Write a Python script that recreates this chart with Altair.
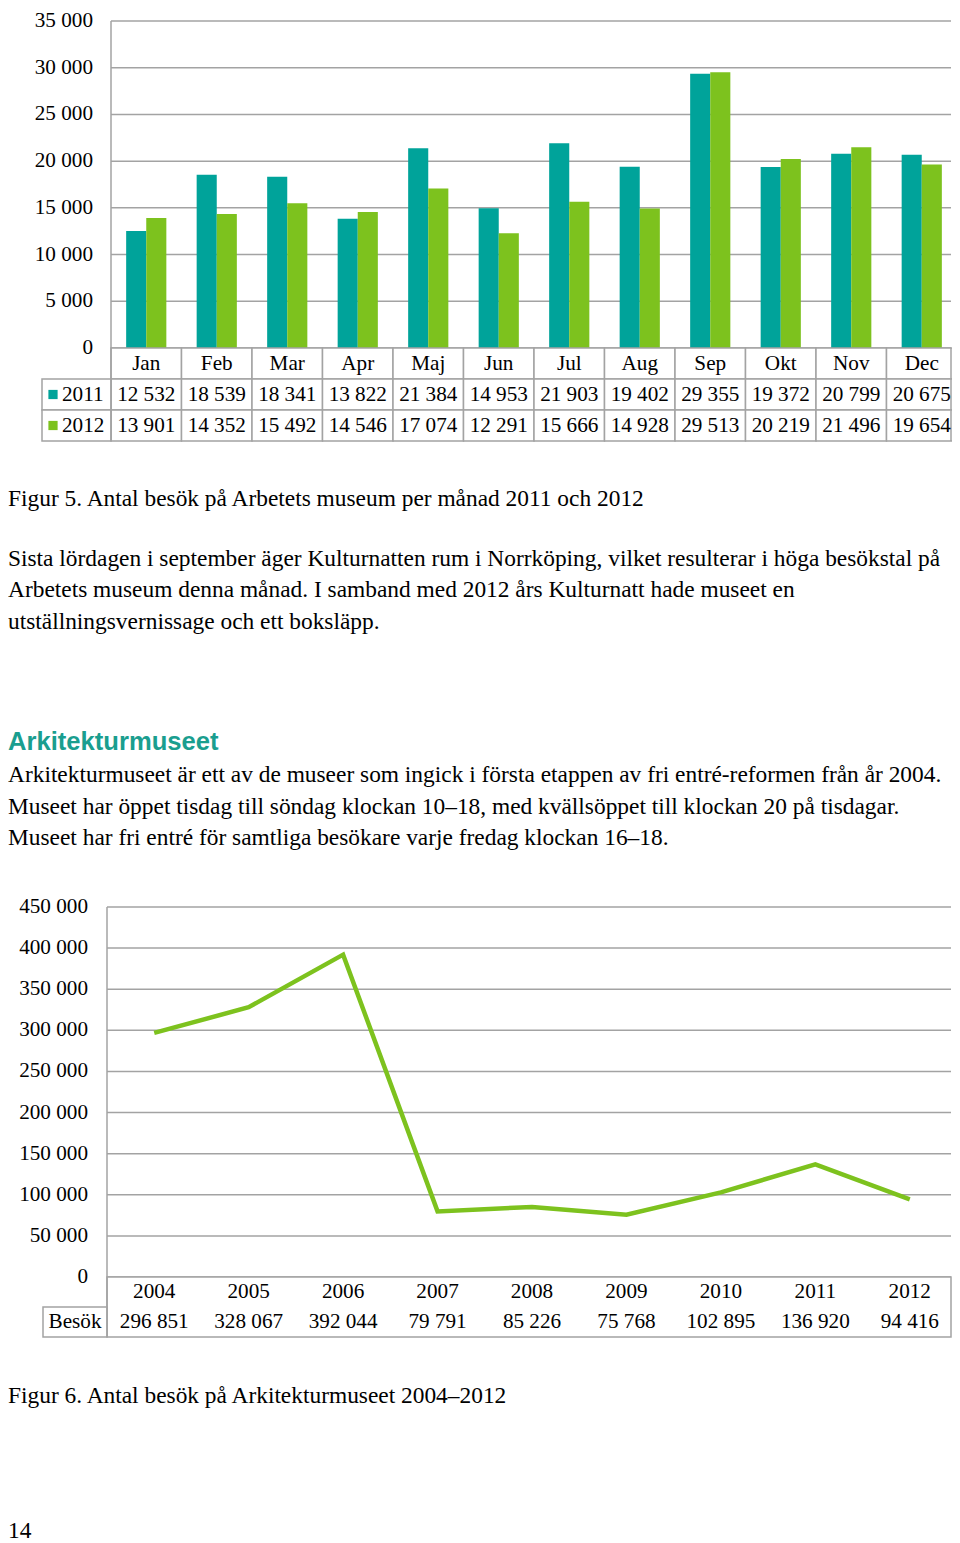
import altair as alt
import pandas as pd

# ---------------- data ----------------
months = ["Jan", "Feb", "Mar", "Apr", "Maj", "Jun", "Jul", "Aug", "Sep", "Okt", "Nov", "Dec"]
visits_2011 = [12532, 18539, 18341, 13822, 21384, 14953, 21903, 19402, 29355, 19372, 20799, 20675]
visits_2012 = [13901, 14352, 15492, 14546, 17074, 12291, 15666, 14928, 29513, 20219, 21496, 19654]
bar_ticks = [0, 5000, 10000, 15000, 20000, 25000, 30000, 35000]

years = ["2004", "2005", "2006", "2007", "2008", "2009", "2010", "2011", "2012"]
arkitektur_visits = [296851, 328067, 392044, 79791, 85226, 75768, 102895, 136920, 94416]
line_ticks = [0, 50000, 100000, 150000, 200000, 250000, 300000, 350000, 400000, 450000]

caption5 = "Figur 5. Antal besök på Arbetets museum per månad 2011 och 2012"
para1 = [
    "Sista lördagen i september äger Kulturnatten rum i Norrköping, vilket resulterar i höga besökstal på",
    "Arbetets museum denna månad. I samband med 2012 års Kulturnatt hade museet en",
    "utställningsvernissage och ett boksläpp.",
]
heading = "Arkitekturmuseet"
para2 = [
    "Arkitekturmuseet är ett av de museer som ingick i första etappen av fri entré-reformen från år 2004.",
    "Museet har öppet tisdag till söndag klockan 10–18, med kvällsöppet till klockan 20 på tisdagar.",
    "Museet har fri entré för samtliga besökare varje fredag klockan 16–18.",
]
caption6 = "Figur 6. Antal besök på Arkitekturmuseet 2004–2012"
page_no = "14"

# ---------------- style ----------------
TEAL = "#00A39A"
GREEN = "#7DC21E"
HEAD = "#1A9E8F"
GRAY = "#A3A3A3"
SERIF = "Liberation Serif"
SANS = "Liberation Sans"
FS_AX = 21.2
FS_BODY = 23.4
RIGHT = 951  # right edge (page px) of charts and tables


def P(v):
    return v - 8  # page px -> chart px (page margin 8)


def fmt(v):
    return f"{v:,}".replace(",", " ")


one = alt.Data(values=[{"k": 1}])

# ---------------- bar chart (Figur 5) ----------------
bar_df = pd.DataFrame(
    {"month": months * 2,
     "year": ["2011"] * 12 + ["2012"] * 12,
     "value": visits_2011 + visits_2012}
)
bar_y = alt.Scale(domain=[0, 35000], range=[P(348), P(21)], nice=False, zero=True)
bar_tick_df = pd.DataFrame({"tick": bar_ticks, "label": [fmt(t) for t in bar_ticks]})

bar_grid = alt.Chart(bar_tick_df).mark_rule(color=GRAY, strokeWidth=1.5).encode(
    y=alt.Y("tick:Q", scale=bar_y, axis=None),
    x=alt.value(P(111)), x2=alt.value(P(RIGHT)),
)
bar_labels = alt.Chart(bar_tick_df).mark_text(
    align="right", baseline="middle", font=SERIF, fontSize=FS_AX, color="black"
).encode(
    y=alt.Y("tick:Q", scale=bar_y, axis=None),
    x=alt.value(P(93)), text="label:N",
)
bars = alt.Chart(bar_df).mark_bar().encode(
    x=alt.X("month:N", sort=months,
            scale=alt.Scale(domain=months, range=[P(111), P(957)], paddingInner=0.43, paddingOuter=0.215),
            axis=None),
    xOffset=alt.XOffset("year:N", scale=alt.Scale(domain=["2011", "2012"], paddingInner=0, paddingOuter=0)),
    y=alt.Y("value:Q", scale=bar_y, axis=None),
    color=alt.Color("year:N", scale=alt.Scale(domain=["2011", "2012"], range=[TEAL, GREEN]), legend=None),
)

rows = ["hdr", "2011", "2012"]
tbl_x = alt.Scale(domain=months, range=[P(111), P(957)], paddingInner=0, paddingOuter=0)
tbl_y = alt.Scale(domain=rows, range=[P(348), P(441)], paddingInner=0, paddingOuter=0)
tbl_df = pd.DataFrame(
    {"month": months * 3,
     "row": ["hdr"] * 12 + ["2011"] * 12 + ["2012"] * 12,
     "label": months + [fmt(v) for v in visits_2011] + [fmt(v) for v in visits_2012]}
)
tbl_cells = alt.Chart(tbl_df).mark_rect(fill="white", stroke=GRAY, strokeWidth=1.5).encode(
    x=alt.X("month:N", scale=tbl_x, axis=None),
    y=alt.Y("row:N", scale=tbl_y, axis=None),
)
tbl_right = alt.Chart(one).mark_rule(color=GRAY, strokeWidth=1.5).encode(
    x=alt.value(P(RIGHT)), y=alt.value(P(348)), y2=alt.value(P(441)),
)
tbl_text = alt.Chart(tbl_df).mark_text(
    baseline="middle", font=SERIF, fontSize=FS_AX, color="black"
).encode(
    x=alt.X("month:N", scale=tbl_x, axis=None),
    y=alt.Y("row:N", scale=tbl_y, axis=None),
    text="label:N",
)
leg_df = pd.DataFrame({"row": ["2011", "2012"]})
leg_cells = alt.Chart(leg_df).mark_rect(fill="white", stroke=GRAY, strokeWidth=1.5).encode(
    x=alt.value(P(42)), x2=alt.value(P(111)),
    y=alt.Y("row:N", scale=tbl_y, axis=None),
)
leg_marks = alt.Chart(leg_df).mark_square(size=85, opacity=1).encode(
    x=alt.value(P(53)),
    y=alt.Y("row:N", scale=tbl_y, axis=None),
    color=alt.Color("row:N", scale=alt.Scale(domain=["2011", "2012"], range=[TEAL, GREEN]), legend=None),
)
leg_text = alt.Chart(leg_df).mark_text(
    align="left", baseline="middle", font=SERIF, fontSize=FS_AX, color="black"
).encode(
    x=alt.value(P(62)),
    y=alt.Y("row:N", scale=tbl_y, axis=None),
    text="row:N",
)
bar_axis = alt.Chart(one).mark_rule(color=GRAY, strokeWidth=1.5).encode(
    x=alt.value(P(111)), y=alt.value(P(21)), y2=alt.value(P(441)),
)

# ---------------- line chart (Figur 6) ----------------
line_df = pd.DataFrame({"year": years, "visits": arkitektur_visits, "label": [fmt(v) for v in arkitektur_visits]})
line_x = alt.Scale(type="point", domain=years, range=[P(107), P(957)], padding=0.5)
line_y = alt.Scale(domain=[0, 450000], range=[P(1277), P(907)], nice=False, zero=True)
line_tick_df = pd.DataFrame({"tick": line_ticks, "label": [fmt(t) for t in line_ticks]})

line_grid = alt.Chart(line_tick_df).mark_rule(color=GRAY, strokeWidth=1.5).encode(
    y=alt.Y("tick:Q", scale=line_y, axis=None),
    x=alt.value(P(107)), x2=alt.value(P(RIGHT)),
)
line_labels = alt.Chart(line_tick_df).mark_text(
    align="right", baseline="middle", font=SERIF, fontSize=FS_AX, color="black"
).encode(
    y=alt.Y("tick:Q", scale=line_y, axis=None),
    x=alt.value(P(88)), text="label:N",
)
line_box = alt.Chart(one).mark_rect(fill="white", stroke=GRAY, strokeWidth=1.5).encode(
    x=alt.value(P(107)), x2=alt.value(P(RIGHT)), y=alt.value(P(1277)), y2=alt.value(P(1337)),
)
besok_box = alt.Chart(one).mark_rect(fill="white", stroke=GRAY, strokeWidth=1.5).encode(
    x=alt.value(P(43)), x2=alt.value(P(107)), y=alt.value(P(1307)), y2=alt.value(P(1337)),
)
besok_text = alt.Chart(one).mark_text(
    align="center", baseline="middle", font=SERIF, fontSize=FS_AX, color="black", text="Besök"
).encode(x=alt.value(P(75)), y=alt.value(P(1322)))
line_axis = alt.Chart(one).mark_rule(color=GRAY, strokeWidth=1.5).encode(
    x=alt.value(P(107)), y=alt.value(P(907)), y2=alt.value(P(1337)),
)
line = alt.Chart(line_df).mark_line(color=GREEN, strokeWidth=4.5, strokeJoin="miter").encode(
    x=alt.X("year:N", scale=line_x, axis=None),
    y=alt.Y("visits:Q", scale=line_y, axis=None),
)
year_text = alt.Chart(line_df).mark_text(
    baseline="middle", font=SERIF, fontSize=FS_AX, color="black"
).encode(
    x=alt.X("year:N", scale=line_x, axis=None), y=alt.value(P(1292)), text="year:N",
)
val_text = alt.Chart(line_df).mark_text(
    baseline="middle", font=SERIF, fontSize=FS_AX, color="black"
).encode(
    x=alt.X("year:N", scale=line_x, axis=None), y=alt.value(P(1322)), text="label:N",
)


# ---------------- page text ----------------
def text_line(s, y, size=FS_BODY, font=SERIF, color="black", weight="normal"):
    return alt.Chart(one).mark_text(
        align="left", baseline="middle", font=font, fontSize=size, color=color,
        fontWeight=weight, text=s
    ).encode(x=alt.value(P(8)), y=alt.value(P(y)))


texts = [text_line(caption5, 499)]
texts += [text_line(s, y) for s, y in zip(para1, [559, 590, 622])]
texts += [text_line(heading, 742, size=25.6, font=SANS, color=HEAD, weight="bold")]
texts += [text_line(s, y) for s, y in zip(para2, [775, 807, 838])]
texts += [text_line(caption6, 1396), text_line(page_no, 1531)]

layers = [
    bar_grid, bar_labels, bars, tbl_cells, tbl_right, tbl_text, leg_cells, leg_marks, leg_text, bar_axis,
    line_grid, line_labels, line_box, besok_box, besok_text, line_axis, line, year_text, val_text,
] + texts

chart = alt.layer(*layers).resolve_scale(
    x="independent", y="independent", color="independent", xOffset="independent"
).properties(
    width=944, height=1535, padding=0, background="white",
    autosize=alt.AutoSizeParams(type="none")
).configure_view(stroke=None)

chart.save("out.html", embed_options={"renderer": "svg", "actions": False})
